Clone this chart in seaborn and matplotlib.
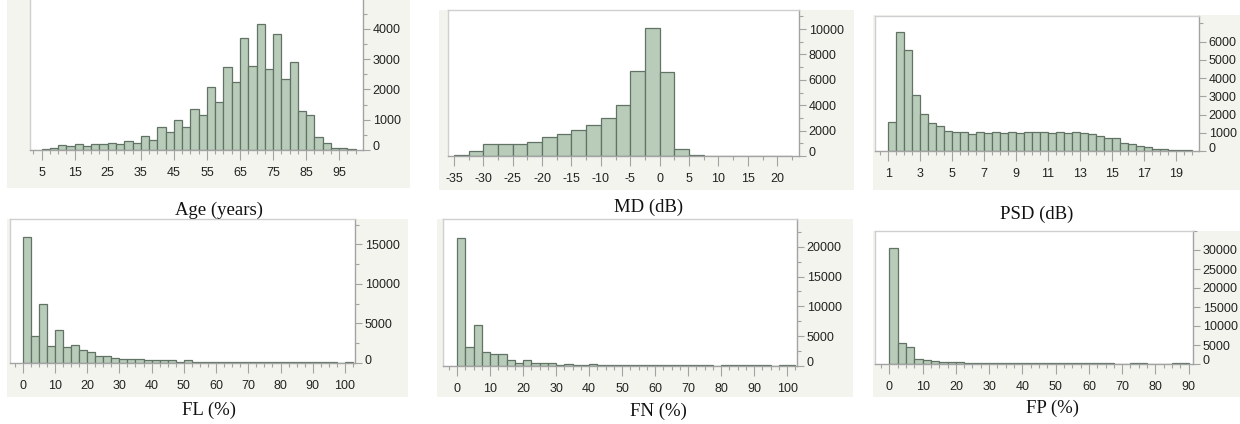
import numpy as np
import pandas as pd
import matplotlib
matplotlib.use("Agg")
import matplotlib.pyplot as plt
import matplotlib.transforms as mtransforms
from matplotlib.patches import Rectangle
from matplotlib.ticker import FixedLocator
import seaborn as sns

# ── Datos (conteos por bin) ───────────────────────────────────
age_edges = np.arange(5, 100.1, 2.5)
age_counts = [20, 50, 165, 130, 200, 130, 200, 200, 240, 200, 290, 240, 460, 330,
              750, 590, 1000, 750, 1370, 1160, 2080, 1580, 2740, 2250, 3690, 2780,
              4170, 2670, 3830, 2340, 2920, 1300, 1170, 440, 220, 60, 60, 20]

md_edges = np.arange(-35, 22.6, 2.5)
md_counts = [105, 370, 950, 950, 950, 1080, 1470, 1760, 2050, 2470, 2970, 4050,
             6680, 10050, 6580, 550, 40, 30, 30, 30, 30, 30, 30]

psd_edges = np.arange(1, 20.01, 0.5)
psd_counts = [1610, 6510, 5540, 3090, 2050, 1550, 1350, 1100, 1020, 1020, 950, 1020,
              970, 1020, 970, 1020, 970, 1020, 1020, 1020, 970, 1020, 970, 1020,
              970, 915, 840, 710, 700, 460, 385, 275, 200, 130, 110, 55, 55, 35]

fl_edges = np.arange(0, 102.6, 2.5)
fl_counts = [15900, 3360, 7430, 2100, 4120, 2020, 2230, 1600, 1430, 840, 840, 670,
             500, 500, 500, 340, 340, 340, 340, 170, 340, 130,
             100, 100, 100, 100, 100, 100, 100, 100, 100, 100, 100, 100, 100, 100,
             100, 100, 100, 0, 100]

fn_edges = np.arange(0, 102.6, 2.5)
fn_counts = [21500, 3130, 6820, 2400, 2070, 2070, 950, 450, 950, 450, 560, 450,
             220, 390, 220, 220, 390,
             150, 150, 150, 150, 150, 150, 150, 150, 150, 150, 150, 150, 150, 150,
             0, 150, 150, 150, 150, 150, 150, 0, 150, 150]

fp_edges = np.arange(0, 90.1, 2.5)
fp_counts = [30450, 5500, 4380, 1400, 1050, 790, 525, 525, 525,
             200, 200, 200, 200, 200, 200, 200, 200, 200, 200, 200, 200, 200, 200,
             200, 200, 200, 200, 0, 0, 200, 200, 0, 0, 0, 200, 200]

titles = ["Age (years)", "MD (dB)", "PSD (dB)", "FL (%)", "FN (%)", "FP (%)"]

# ── Configuración general ────────────────────────────────────
sns.set_theme(style="white")
plt.rcParams["font.family"] = ["Liberation Sans", "DejaVu Sans"]
plt.rcParams["axes.unicode_minus"] = False

W, H = 1240, 424
fig = plt.figure(figsize=(W / 100, H / 100), dpi=100)

BAR = "#b9cbb9"
EDGE = "#617364"
PANEL_BG = "#f4f4ef"
BOX = "#cfcfcf"
AXIS = "#a3a3a3"


def rect(left, right, top, bottom):
    return [left / W, 1 - bottom / H, (right - left) / W, (bottom - top) / H]


def panel(box, bg, edges, counts, xlim, ylim, xticks, xminor, yticks, yminor):
    # fondo gris del panel
    gx0, gx1, gy0, gy1 = bg
    fig.patches.append(Rectangle((gx0 / W, 1 - gy1 / H), (gx1 - gx0) / W, (gy1 - gy0) / H,
                                 transform=fig.transFigure, facecolor=PANEL_BG,
                                 edgecolor="none", zorder=-5))
    ax = fig.add_axes(rect(*box))
    ax.set_facecolor("white")
    edges = [float(e) for e in edges]
    df = pd.DataFrame({
        "x": [(a + b) / 2 for a, b in zip(edges[:-1], edges[1:])],
        "n": counts,
    })
    sns.histplot(data=df, x="x", weights="n", bins=edges, ax=ax, color=BAR,
                 edgecolor=EDGE, linewidth=0.9, alpha=1)
    ax.set_xlim(*xlim)
    ax.set_ylim(0, ylim)
    ax.set_xlabel("")
    ax.set_ylabel("")
    ax.yaxis.tick_right()
    ax.xaxis.set_major_locator(FixedLocator(xticks))
    ax.xaxis.set_minor_locator(FixedLocator(xminor))
    ax.yaxis.set_major_locator(FixedLocator(yticks))
    ax.yaxis.set_minor_locator(FixedLocator(yminor))
    ax.tick_params(axis="both", which="major", direction="out", length=5, width=0.8,
                   color=AXIS, labelsize=9, labelcolor="#222222", pad=2)
    ax.tick_params(axis="both", which="minor", direction="out", length=3, width=0.8,
                   color=AXIS)
    ax.tick_params(axis="x", which="major", length=7, pad=5)
    ax.tick_params(left=False, right=True, which="both")
    ax.tick_params(bottom=True, which="both")
    for side in ["top", "left"]:
        ax.spines[side].set_color(BOX)
        ax.spines[side].set_linewidth(1)
    for side in ["right", "bottom"]:
        ax.spines[side].set_color(AXIS)
        ax.spines[side].set_linewidth(1)
    ax.grid(False)
    # la etiqueta "0" va un poco más arriba, como en el original
    t0 = ax.yaxis.get_major_ticks()[0]
    t0.label2.set_transform(t0.label2.get_transform() +
                            mtransforms.ScaledTranslation(0, 4 / 100, fig.dpi_scale_trans))
    return ax


panel((30, 363, -1.25, 150), (7, 410, 0, 188), age_edges, age_counts,
      (1.5, 102.2), 5000, np.arange(5, 96, 10), np.arange(0, 102.6, 2.5),
      np.arange(0, 4001, 1000), np.arange(500, 5001, 1000))
panel((448, 799, 10, 156), (439, 854, 10, 190), md_edges, md_counts,
      (-36.0, 23.7), 11500, np.arange(-35, 21, 5), np.arange(-35, 23, 2.5),
      np.arange(0, 10001, 2000), np.arange(1000, 11001, 2000))
panel((875, 1199, 15.7, 151), (873, 1240, 15, 190), psd_edges, psd_counts,
      (0.165, 20.46), 7425, np.arange(1, 20, 2), np.arange(0.5, 20.3, 0.5),
      np.arange(0, 6001, 1000), [7000])
panel((10, 355, 219, 363), (7, 408, 219, 397), fl_edges, fl_counts,
      (-3.93, 103.1), 18200, np.arange(0, 101, 10), np.arange(-2.5, 103, 2.5),
      np.arange(0, 15001, 5000), np.arange(2500, 17501, 5000))
panel((443, 797, 219, 366), (437, 853, 219, 397), fn_edges, fn_counts,
      (-4.25, 103.0), 24650, np.arange(0, 101, 10), np.arange(-2.5, 103, 2.5),
      np.arange(0, 20001, 5000), np.arange(2500, 22501, 5000))
panel((875, 1193, 231, 364), (873, 1240, 231, 397), fp_edges, fp_counts,
      (-4.3, 91.3), 35000, np.arange(0, 91, 10), np.arange(-2.5, 91, 2.5),
      np.arange(0, 30001, 5000), [35000])

# ── Títulos bajo cada panel ──────────────────────────────────
title_pos = [(219, 210), (649, 207), (1037, 214), (209, 410), (658, 411), (1053, 408)]
for t, (px, py) in zip(titles, title_pos):
    fig.text(px / W, 1 - py / H, t, ha="center", va="center", fontsize=13.5,
             family=["Liberation Serif", "DejaVu Serif"], color="#111111")

plt.savefig("out.png", dpi=100)
